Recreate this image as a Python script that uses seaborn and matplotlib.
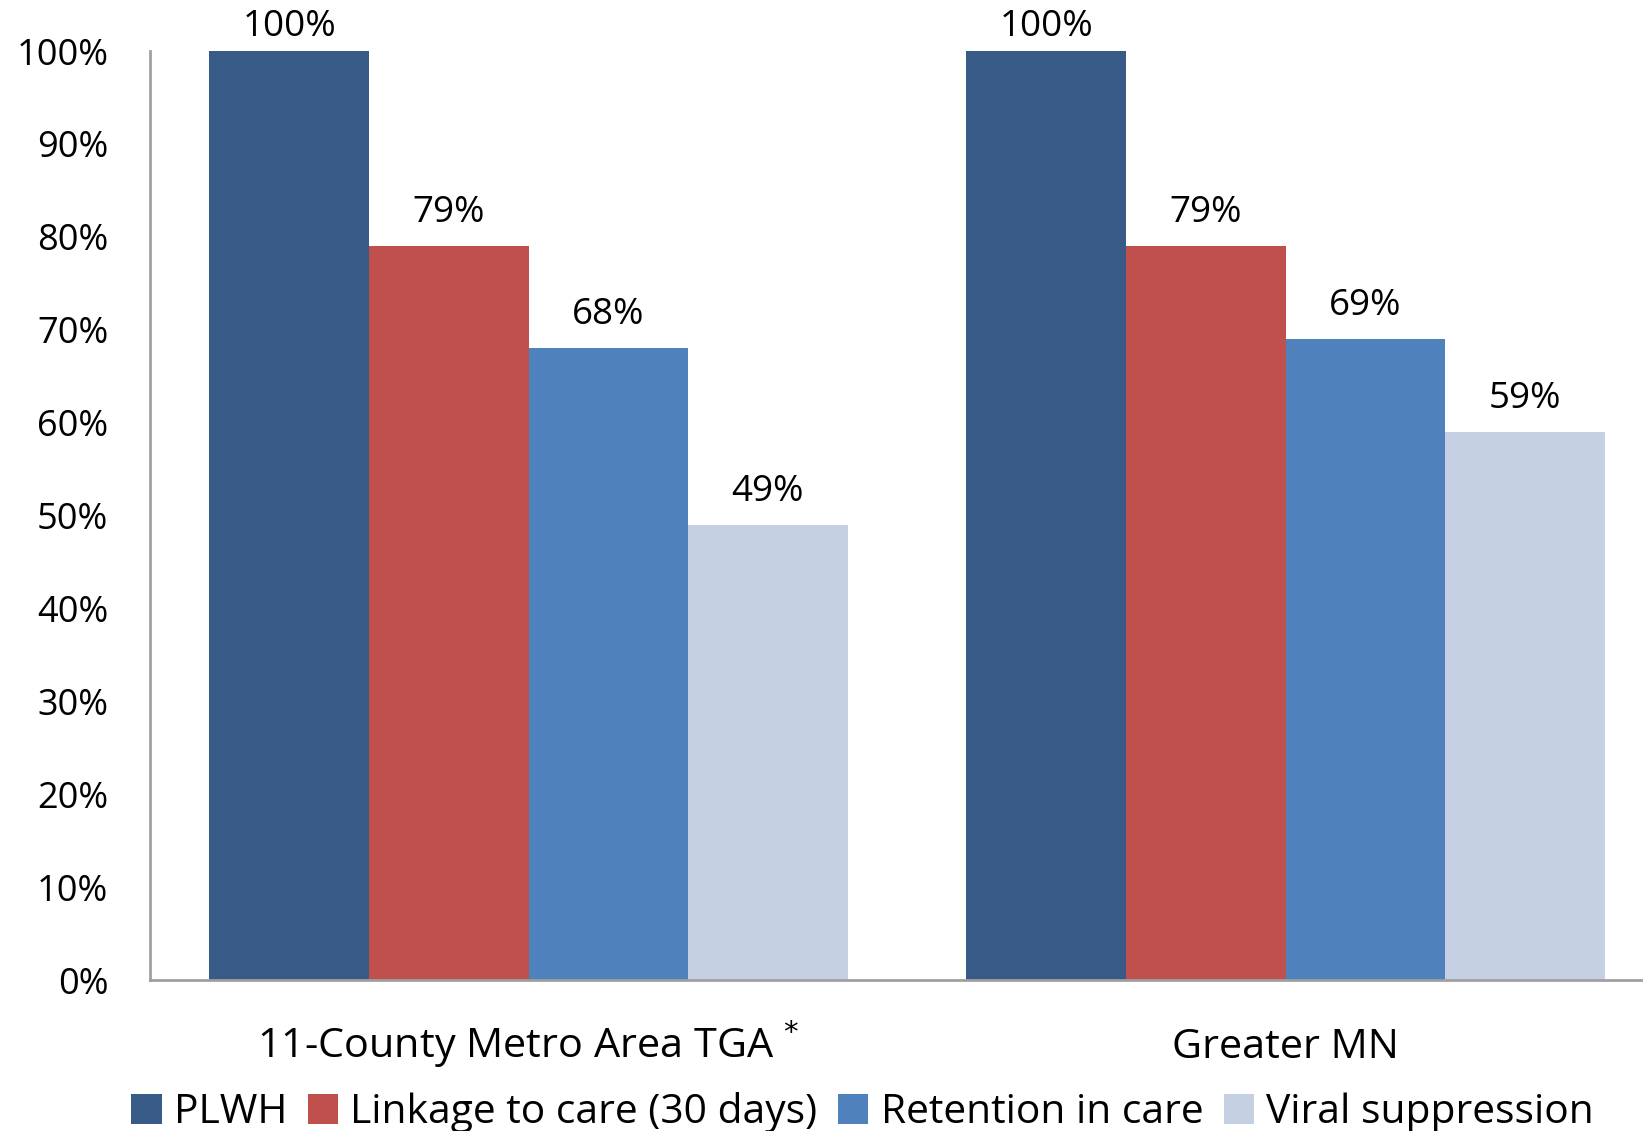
import pandas as pd
import matplotlib.pyplot as plt
import seaborn as sns
from matplotlib.ticker import PercentFormatter

regions = ["11-County Metro Area TGA $^{*}$", "Greater MN"]
stages = ["PLWH", "Linkage to care (30 days)", "Retention in care", "Viral suppression"]
metro = [1.00, 0.79, 0.68, 0.49]
greater_mn = [1.00, 0.79, 0.69, 0.59]
colors = ["#375A87", "#C0504D", "#4F81BD", "#C5D0E2"]

df = pd.DataFrame({
    "region": [regions[0]] * 4 + [regions[1]] * 4,
    "stage": stages * 2,
    "value": metro + greater_mn,
})

sns.set_style("white")
plt.rcParams["font.family"] = ["Open Sans", "DejaVu Sans"]
plt.rcParams["text.color"] = "black"
plt.rcParams["xtick.color"] = "black"
plt.rcParams["ytick.color"] = "black"

fig = plt.figure(figsize=(16.43, 11.31), dpi=100)
ax = fig.add_axes([0.0913, 0.1335, 0.9215, 0.8214])

sns.barplot(data=df, x="region", y="value", hue="stage", hue_order=stages,
            palette=colors, saturation=1, width=0.843, gap=0, ax=ax,
            linewidth=0, edgecolor="none")

# the 100% labels sit tight against the top of the figure
for i, cont in enumerate(ax.containers):
    ax.bar_label(cont, labels=[f"{v * 100:.0f}%" for v in cont.datavalues],
                 fontsize=26.5, padding=4 if i == 0 else 11, color="black")

ax.set_ylim(0, 1)
ax.set_xlim(-0.5, 1.5)
ax.yaxis.set_major_locator(plt.MultipleLocator(0.1))
ax.yaxis.set_major_formatter(PercentFormatter(1.0, decimals=0))
ax.tick_params(axis="y", labelsize=26, length=0, pad=30)
ax.tick_params(axis="x", labelsize=29.8, length=0, pad=56)
for lbl in ax.get_xticklabels():
    lbl.set_verticalalignment("baseline")
ax.set_xlabel("")
ax.set_ylabel("")

for side in ["top", "right"]:
    ax.spines[side].set_visible(False)
for side in ["left", "bottom"]:
    ax.spines[side].set_color("#A0A0A0")
    ax.spines[side].set_linewidth(2)

sns.move_legend(ax, loc="center", bbox_to_anchor=(0.525, 0.016),
                bbox_transform=fig.transFigure, ncol=4, frameon=False,
                title=None, fontsize=29.3, handlelength=0.75, handleheight=0.75,
                handletextpad=0.3, columnspacing=0.5, borderaxespad=0)

plt.savefig("out.png")
